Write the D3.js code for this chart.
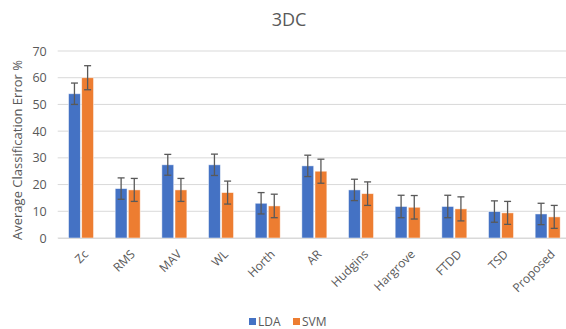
<!DOCTYPE html>
<html>
<head>
<meta charset="utf-8">
<script src="https://cdn.jsdelivr.net/npm/d3@7"></script>
<style>
  body { margin: 0; background: #fff; }
  text { font-family: "Open Sans", sans-serif; fill: #595959; }
</style>
</head>
<body>
<svg id="chart"></svg>
<script>
// data
const categories = ["Zc", "RMS", "MAV", "WL", "Horth", "AR", "Hudgins", "Hargrove", "FTDD", "TSD", "Proposed"];
const series = ["LDA", "SVM"];
const ldaValues = [54, 18.5, 27.4, 27.4, 13, 27, 18, 11.8, 11.8, 9.9, 9];
const ldaErrors = [4, 4, 3.9, 4, 4, 4, 4, 4.2, 4.2, 4, 4];
const svmValues = [60, 18, 18, 17, 12, 25, 16.6, 11.5, 10.9, 9.4, 7.9];
const svmErrors = [4.5, 4.3, 4.3, 4.3, 4.4, 4.5, 4.4, 4.4, 4.5, 4.3, 4.3];
const yTicks = [0, 10, 20, 30, 40, 50, 60, 70];
const colors = { LDA: "#4472C4", SVM: "#ED7D31" };

const width = 566, height = 329;
const margin = { top: 51, right: -5, bottom: 91, left: 57.7 };
const plotW = width - margin.left - margin.right;
const plotH = height - margin.top - margin.bottom;

const svg = d3.select("#chart")
    .attr("width", width)
    .attr("height", height);

const g = svg.append("g")
    .attr("transform", `translate(${margin.left},${margin.top})`);

// build rows for the bars
const rows = categories.map((c, i) => ({
    category: c,
    bars: [
        { key: "LDA", value: ldaValues[i], err: ldaErrors[i] },
        { key: "SVM", value: svmValues[i], err: svmErrors[i] }
    ]
}));

const x0 = d3.scaleBand()
    .domain(categories)
    .range([0, plotW])
    .padding(0);

const bw = x0.bandwidth();
const x1 = d3.scaleBand()
    .domain(series)
    .range([bw / 2 - 12.5, bw / 2 + 12.5])
    .paddingInner(0.1);

const y = d3.scaleLinear()
    .domain([0, 70])
    .range([plotH, 0]);

// gridlines
g.append("g")
    .selectAll("line")
    .data(yTicks)
    .join("line")
    .attr("x1", 0)
    .attr("x2", plotW)
    .attr("y1", d => y(d))
    .attr("y2", d => y(d))
    .attr("stroke", "#d9d9d9")
    .attr("stroke-width", 1);

// y axis labels
const yAxis = g.append("g")
    .call(d3.axisLeft(y).tickValues(yTicks).tickSize(0).tickPadding(11));
yAxis.select(".domain").remove();
yAxis.selectAll("text")
    .attr("font-size", "12.5px")
    .style("font-family", "'Open Sans', sans-serif")
    .attr("fill", "#595959");

// bars
const groups = g.selectAll(".grp")
    .data(rows)
    .join("g")
    .attr("class", "grp")
    .attr("transform", d => `translate(${x0(d.category)},0)`);

groups.selectAll("rect")
    .data(d => d.bars)
    .join("rect")
    .attr("x", d => x1(d.key))
    .attr("y", d => y(d.value))
    .attr("width", x1.bandwidth())
    .attr("height", d => plotH - y(d.value))
    .attr("fill", d => colors[d.key])
    .attr("stroke", "#fff")
    .attr("stroke-opacity", 0.6)
    .attr("stroke-width", 0.8);

// error bars
const eb = groups.selectAll(".err")
    .data(d => d.bars)
    .join("g")
    .attr("class", "err")
    .attr("stroke", "#595959")
    .attr("stroke-width", 1.3);

eb.append("line")
    .attr("x1", d => x1(d.key) + x1.bandwidth() / 2)
    .attr("x2", d => x1(d.key) + x1.bandwidth() / 2)
    .attr("y1", d => y(d.value + d.err))
    .attr("y2", d => y(d.value - d.err));

eb.selectAll(".cap")
    .data(d => [d.value + d.err, d.value - d.err].map(v => ({ key: d.key, v })))
    .join("line")
    .attr("class", "cap")
    .attr("x1", d => x1(d.key) + x1.bandwidth() / 2 - 3.5)
    .attr("x2", d => x1(d.key) + x1.bandwidth() / 2 + 3.5)
    .attr("y1", d => y(d.v))
    .attr("y2", d => y(d.v));

// x axis
const xAxis = g.append("g")
    .attr("transform", `translate(0,${plotH})`)
    .call(d3.axisBottom(x0).tickSize(0).tickPadding(0));
xAxis.select(".domain").attr("stroke", "#d9d9d9");
xAxis.selectAll("text")
    .attr("font-size", "12px")
    .style("font-family", "'Open Sans', sans-serif")
    .attr("fill", "#595959")
    .attr("text-anchor", "end")
    .attr("dy", "0")
    .attr("y", 0)
    .attr("transform", "translate(8,17) rotate(-45)");

// title
svg.append("text")
    .attr("x", 289)
    .attr("y", 26)
    .attr("text-anchor", "middle")
    .attr("font-size", "18px")
    .text("3DC");

// y axis title
svg.append("text")
    .attr("transform", `translate(22,150) rotate(-90)`)
    .attr("text-anchor", "middle")
    .attr("font-size", "13px")
    .text("Average Classification Error %");

// legend
const legend = svg.append("g")
    .attr("transform", "translate(249,318)");
const items = legend.selectAll("g")
    .data(series)
    .join("g")
    .attr("transform", (d, i) => `translate(${i * 44},0)`);
items.append("rect")
    .attr("width", 7)
    .attr("height", 7)
    .attr("fill", d => colors[d]);
items.append("text")
    .attr("x", 9)
    .attr("y", 7.5)
    .attr("font-size", "12px")
    .text(d => d);
</script>
</body>
</html>
